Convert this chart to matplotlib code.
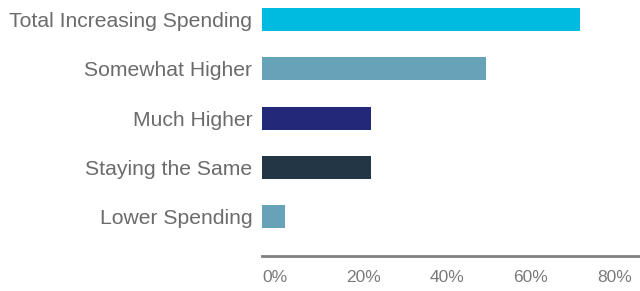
import matplotlib.pyplot as plt

categories = ["Total Increasing Spending", "Somewhat Higher", "Much Higher",
              "Staying the Same", "Lower Spending"]
values = [76, 53.5, 26, 26, 5.5]
colors = ["#00BBE0", "#67A3B8", "#232878", "#233645", "#67A3B8"]
ticks = [0, 20, 40, 60, 80]
tick_labels = ["0%", "20%", "40%", "60%", "80%"]

plt.rcParams['font.family'] = ['Liberation Sans', 'DejaVu Sans']

fig = plt.figure(figsize=(6.4, 2.91), dpi=100)
ax = fig.add_axes([262 / 640, 1 - 256 / 291, 1 - 262 / 640, 256 / 291])

ypos = list(range(len(categories)))[::-1]
ax.barh(ypos, values, height=0.47, color=colors)

ax.set_xlim(0, 90.3)
ax.set_ylim(-0.8, 4.4)
ax.set_yticks(ypos)
ax.set_yticklabels(categories, fontsize=15.2, color="#6b6b6b")
ax.set_xticks(ticks)
ax.set_xticklabels(tick_labels, fontsize=12.5, color="#7a7a7a", ha="left")
ax.tick_params(axis="both", length=0)
ax.tick_params(axis="y", pad=7)
ax.tick_params(axis="x", pad=10)

for s in ["top", "right", "left"]:
    ax.spines[s].set_visible(False)
ax.spines["bottom"].set_color("#808080")
ax.spines["bottom"].set_linewidth(2)

plt.savefig("out.png", dpi=100)
